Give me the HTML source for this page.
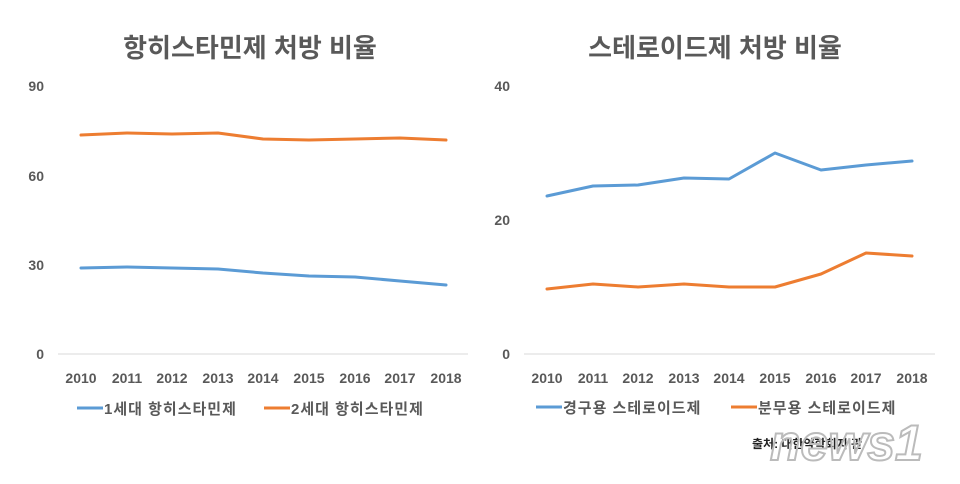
<!DOCTYPE html>
<html><head><meta charset="utf-8"><style>
body{margin:0;background:#fff;}
svg text{font-family:"Liberation Sans","Noto Sans CJK KR",sans-serif;fill:#595959;font-weight:bold;}
</style></head><body>
<svg width="960" height="479" viewBox="0 0 960 479" xmlns="http://www.w3.org/2000/svg">
<rect width="960" height="479" fill="#fff"/>
<text x="250" y="57" font-size="26" text-anchor="middle">항히스타민제 처방 비율</text>
<text x="715" y="57" font-size="26" text-anchor="middle">스테로이드제 처방 비율</text>
<g font-size="14" text-anchor="end">
<text x="44" y="91">90</text><text x="44" y="181">60</text><text x="44" y="270">30</text><text x="44" y="359">0</text>
<text x="510" y="91">40</text><text x="510" y="225">20</text><text x="510" y="359">0</text>
</g>
<line x1="58" y1="354" x2="468" y2="354" stroke="#d9d9d9" stroke-width="1"/>
<line x1="524" y1="354" x2="935" y2="354" stroke="#d9d9d9" stroke-width="1"/>
<g font-size="14" text-anchor="middle">
<text x="81" y="383">2010</text><text x="127" y="383">2011</text><text x="172" y="383">2012</text><text x="218" y="383">2013</text><text x="263" y="383">2014</text><text x="309" y="383">2015</text><text x="355" y="383">2016</text><text x="400" y="383">2017</text><text x="446" y="383">2018</text>
<text x="547" y="383">2010</text><text x="593" y="383">2011</text><text x="638" y="383">2012</text><text x="684" y="383">2013</text><text x="729" y="383">2014</text><text x="775" y="383">2015</text><text x="821" y="383">2016</text><text x="866" y="383">2017</text><text x="912" y="383">2018</text>
</g>
<g fill="none" stroke-width="3" stroke-linejoin="round" stroke-linecap="round">
<polyline stroke="#ed7d31" points="81,135 127,133 172,134 218,133 263,139 309,140 355,139 400,138 446,140"/>
<polyline stroke="#5b9bd5" points="81,268 127,267 172,268 218,269 263,273 309,276 355,277 400,281 446,285"/>
<polyline stroke="#5b9bd5" points="547,196 593,186 638,185 684,178 729,179 775,153 821,170 866,165 912,161"/>
<polyline stroke="#ed7d31" points="547,289 593,284 638,287 684,284 729,287 775,287 821,274 866,253 912,256"/>
</g>
<g stroke-width="3">
<line x1="77" y1="408" x2="103" y2="408" stroke="#5b9bd5"/>
<line x1="264" y1="408" x2="290" y2="408" stroke="#ed7d31"/>
<line x1="536" y1="407" x2="562" y2="407" stroke="#5b9bd5"/>
<line x1="731" y1="407" x2="757" y2="407" stroke="#ed7d31"/>
</g>
<g font-size="15" letter-spacing="1">
<text x="104" y="414">1세대 항히스타민제</text>
<text x="291" y="414">2세대 항히스타민제</text>
<text x="563" y="413">경구용 스테로이드제</text>
<text x="758" y="413">분무용 스테로이드제</text>
</g>
<text x="752" y="448" font-size="12" style="fill:#222">출처: 대한약학회지 관</text>
<text x="770" y="460" font-size="50" font-style="italic" style="fill:none;stroke:#bbb;stroke-width:2">news1</text>
</svg>
</body></html>
